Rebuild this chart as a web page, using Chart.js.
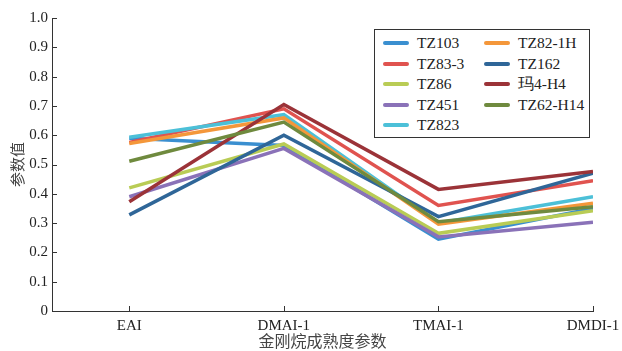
<!DOCTYPE html>
<html lang="zh">
<head>
  <meta charset="UTF-8">
  <title>金刚烷成熟度参数</title>
  <script src="https://cdn.jsdelivr.net/npm/chart.js"></script>
  <style>
    body { margin: 0; background: #fff; }
    #wrap { position: relative; width: 622px; height: 351px; }
    #legend {
      position: absolute; left: 374px; top: 29px; width: 214px; height: 107px;
      border: 1px solid #333; background: #fff;
      font-family: "Liberation Serif", serif; font-size: 15.5px; color: #222;
    }
    .item { position: absolute; height: 20px; line-height: 20px; white-space: nowrap; }
    .item span.sw { position: absolute; left: 0; top: 8px; width: 26px; height: 4px; border-radius: 2px; }
    .item span.tx { position: absolute; left: 34px; top: 0; }
  </style>
</head>
<body>
<div id="wrap">
  <canvas id="c" width="622" height="351"></canvas>
  <div id="legend"></div>
</div>
<script>
const categories = ['EAI', 'DMAI-1', 'TMAI-1', 'DMDI-1'];
const wells  = ['TZ103', 'TZ83-3', 'TZ86', 'TZ451', 'TZ823', 'TZ82-1H', 'TZ162', '玛4-H4', 'TZ62-H14'];
const colors = ['#3a8fd0', '#e0534f', '#b9cc55', '#8a72b8', '#4cc0d8', '#f4973a', '#2f6698', '#9b3338', '#6f8a3e'];

const TZ103   = [0.59, 0.565, 0.245, 0.35];
const TZ83_3  = [0.575, 0.69, 0.36, 0.445];
const TZ86    = [0.42, 0.57, 0.265, 0.342];
const TZ451   = [0.39, 0.555, 0.253, 0.303];
const TZ823   = [0.593, 0.67, 0.30, 0.39];
const TZ82_1H = [0.572, 0.659, 0.296, 0.368];
const TZ162   = [0.328, 0.60, 0.322, 0.47];
const Ma4_H4  = [0.373, 0.705, 0.415, 0.476];
const TZ62_H14 = [0.511, 0.645, 0.305, 0.356];
const series = [TZ103, TZ83_3, TZ86, TZ451, TZ823, TZ82_1H, TZ162, Ma4_H4, TZ62_H14];

const yTicks = [0, 0.1, 0.2, 0.3, 0.4, 0.5, 0.6, 0.7, 0.8, 0.9, 1.0];

// inward tick marks, like the original
const innerTicks = {
  id: 'innerTicks',
  afterDraw(chart) {
    const ctx = chart.ctx, x = chart.scales.x, y = chart.scales.y;
    ctx.save();
    ctx.strokeStyle = '#333';
    ctx.lineWidth = 1;
    ctx.beginPath();
    yTicks.forEach(v => {
      const py = Math.round(y.getPixelForValue(v)) + 0.5;
      ctx.moveTo(x.left, py); ctx.lineTo(x.left + 5, py);
    });
    categories.forEach((c, i) => {
      const px = Math.round(x.getPixelForValue(i)) + 0.5;
      ctx.moveTo(px, y.bottom); ctx.lineTo(px, y.bottom - 5);
    });
    ctx.stroke();
    ctx.restore();
  }
};

new Chart(document.getElementById('c'), {
  type: 'line',
  data: {
    datasets: wells.map((w, i) => ({
      label: w,
      data: series[i].map((v, j) => ({ x: j, y: v })),
      borderColor: colors[i],
      backgroundColor: colors[i],
      borderWidth: 3.5,
      pointRadius: 0,
      tension: 0,
      fill: false,
      order: wells.length - i
    }))
  },
  options: {
    responsive: false,
    animation: false,
    layout: { padding: { top: 18, right: 29, left: 0, bottom: 0 } },
    plugins: { legend: { display: false }, tooltip: { enabled: false } },
    scales: {
      x: {
        type: 'linear',
        min: -0.5,
        max: 3,
        afterBuildTicks: s => { s.ticks = categories.map((c, i) => ({ value: i })); },
        afterFit: s => { s.height = 40; s.paddingRight = 0; s.paddingLeft = 0; },
        grid: { drawOnChartArea: false, drawTicks: false },
        border: { color: '#333', width: 1 },
        ticks: {
          color: '#222',
          padding: 6,
          maxRotation: 0,
          autoSkip: false,
          font: { family: '"Liberation Serif", serif', size: 15 },
          callback: v => categories[v]
        },
        title: {
          display: true,
          text: '金刚烷成熟度参数',
          color: '#444',
          padding: { top: 0, bottom: 0 },
          font: { family: '"Noto Sans CJK SC", sans-serif', size: 16 }
        }
      },
      y: {
        min: 0,
        max: 1,
        afterBuildTicks: s => { s.ticks = yTicks.map(v => ({ value: v })); },
        afterFit: s => { s.width = 52; },
        grid: { drawOnChartArea: false, drawTicks: false },
        border: { color: '#333', width: 1 },
        ticks: {
          color: '#222',
          padding: 4,
          font: { family: '"Liberation Serif", serif', size: 15 },
          callback: v => v === 0 ? '0' : v.toFixed(1)
        },
        title: {
          display: true,
          text: '参数值',
          color: '#444',
          padding: { top: 8, bottom: 0 },
          font: { family: '"Noto Sans CJK SC", sans-serif', size: 15 }
        }
      }
    }
  },
  plugins: [innerTicks]
});

// legend box, two columns filled top to bottom
const legend = document.getElementById('legend');
wells.forEach((w, i) => {
  const col = i < 5 ? 0 : 1;
  const row = i < 5 ? i : i - 5;
  const d = document.createElement('div');
  d.className = 'item';
  d.style.left = (col ? 109 : 8) + 'px';
  d.style.top = (3 + row * 20.5) + 'px';
  d.innerHTML = '<span class="sw" style="background:' + colors[i] + '"></span><span class="tx">' + w + '</span>';
  legend.appendChild(d);
});
</script>
</body>
</html>
